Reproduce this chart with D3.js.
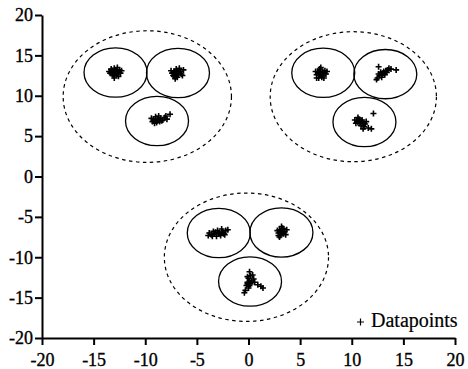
<!DOCTYPE html>
<html>
<head>
<meta charset="utf-8">
<script src="https://cdn.jsdelivr.net/npm/d3@7"></script>
<style>
  html, body { margin: 0; padding: 0; background: #fff; }
  svg { display: block; }
</style>
</head>
<body>
<svg id="chart" width="468" height="369"></svg>
<script>
// Axis ticks
const xTicks = [-20, -15, -10, -5, 0, 5, 10, 15, 20];
const yTicks = [-20, -15, -10, -5, 0, 5, 10, 15, 20];

// Datapoints, one list per cluster
const clusterTL1 = [[-12.9,13.0],[-13.2,13.1],[-12.6,12.9],[-13.0,13.4],[-12.8,12.6],[-13.4,12.8],[-12.5,13.2],[-13.1,12.5],[-12.7,13.5],[-13.3,13.3],[-12.4,12.8],[-13.0,12.2],[-12.6,12.4],[-13.5,13.0],[-12.9,12.8],[-12.3,13.1],[-13.2,12.7],[-12.8,13.2],[-13.0,13.0],[-12.7,12.7],[-13.1,12.9],[-12.8,13.0]];
const clusterTL2 = [[-7.0,12.8],[-7.2,13.0],[-6.8,12.6],[-7.3,12.5],[-6.6,13.0],[-7.0,13.3],[-6.9,12.3],[-7.4,12.8],[-6.5,12.7],[-6.7,13.4],[-7.1,12.1],[-6.3,13.2],[-7.5,13.1],[-6.9,12.9],[-6.4,12.5],[-7.2,12.4],[-7.0,12.6],[-6.8,13.0],[-7.1,12.8]];
const clusterTL3 = [[-8.8,7.1],[-9.2,7.0],[-8.5,7.2],[-9.0,7.4],[-8.6,6.8],[-9.3,6.8],[-8.3,7.0],[-8.9,6.7],[-9.4,7.2],[-8.1,7.3],[-8.7,7.5],[-9.1,6.6],[-8.4,6.9],[-7.9,7.1],[-7.6,7.7],[-8.0,7.5],[-8.8,6.9],[-9.0,7.1],[-8.6,7.0]];
const clusterTR1 = [[7.0,12.9],[6.7,13.0],[7.3,12.8],[6.9,13.3],[7.2,12.5],[6.6,12.6],[7.4,13.1],[6.8,12.2],[7.1,12.3],[6.5,13.0],[7.5,12.7],[7.0,13.5],[6.6,12.2],[7.3,12.2],[6.9,12.6],[7.6,13.0],[7.0,12.7],[6.8,12.9],[7.2,13.0]];
const clusterTR2 = [[13.0,12.8],[12.7,12.5],[13.3,13.1],[12.5,12.2],[13.5,13.2],[12.8,12.9],[13.2,12.6],[12.9,12.3],[13.6,13.4],[12.6,12.7],[13.1,13.0],[12.4,12.0],[13.4,12.9],[14.3,13.2],[12.6,13.6],[13.8,13.3],[12.9,12.6],[13.1,12.8]];
const clusterTR3 = [[10.8,6.8],[10.5,6.9],[11.1,6.6],[10.7,7.1],[11.0,7.0],[10.4,6.6],[11.3,6.5],[10.9,6.3],[10.6,7.3],[11.4,6.8],[10.3,7.0],[11.2,6.2],[11.1,5.9],[11.6,6.0],[11.9,5.9],[12.1,7.8],[10.8,6.6],[11.0,6.8],[10.6,6.7]];
const clusterB1 = [[-2.9,-7.0],[-3.3,-7.1],[-2.5,-6.9],[-3.6,-7.2],[-2.2,-6.7],[-3.0,-6.7],[-2.7,-7.3],[-3.4,-6.8],[-2.4,-7.1],[-3.8,-7.0],[-2.0,-6.6],[-3.1,-7.4],[-2.6,-6.5],[-3.5,-7.4],[-2.3,-7.2],[-3.9,-7.3],[-3.2,-6.9],[-2.8,-7.1],[-2.6,-6.9]];
const clusterB2 = [[3.2,-6.9],[3.0,-6.6],[3.4,-7.1],[3.1,-7.3],[3.3,-6.4],[2.9,-7.0],[3.5,-6.8],[3.2,-6.2],[3.0,-7.5],[3.6,-7.2],[2.8,-6.7],[3.4,-6.5],[3.1,-6.9],[3.7,-6.6],[2.9,-7.3],[3.2,-6.7],[3.3,-7.0]];
const clusterB3 = [[0.1,-11.8],[0.2,-12.3],[0.0,-12.6],[0.3,-12.9],[-0.1,-13.1],[0.2,-13.3],[-0.2,-13.5],[0.0,-13.8],[-0.3,-14.1],[-0.4,-14.4],[0.5,-12.7],[0.6,-13.1],[0.9,-13.4],[1.2,-13.6],[1.4,-13.8],[0.1,-13.0],[-0.1,-12.4],[0.4,-12.2],[0.1,-13.5],[-0.1,-13.3]];

// Cluster boundaries: [centerX, centerY, radius] in data units
const innerCircles = [[-12.88,12.88,3.05],[-6.83,12.82,3.05],[-8.86,6.87,3.05],
                      [7.24,12.84,3.05],[13.25,12.68,3.05],[11.23,6.75,3.05],
                      [-2.88,-7.0,3.05],[3.19,-6.93,3.05],[0.15,-13.0,3.05]];
const outerCircles = [[-9.8,9.9,8.15],[10.15,9.88,8.05],[-0.2,-10.0,7.95]];

const legendLabel = "Datapoints";

const serif = "Liberation Serif";

const svg = d3.select("#chart");
const x = d3.scaleLinear().domain([-20, 20]).range([42, 455]);
const y = d3.scaleLinear().domain([-20, 20]).range([338, 15]);

// Dashed outer group boundaries
svg.append("g").selectAll("ellipse").data(outerCircles).join("ellipse")
  .attr("cx", d => x(d[0])).attr("cy", d => y(d[1]))
  .attr("rx", d => x(d[2]) - x(0)).attr("ry", d => y(0) - y(d[2]))
  .attr("fill", "none").attr("stroke", "#000").attr("stroke-width", 1.2)
  .attr("stroke-dasharray", "3.5,3.5");

// Solid cluster boundaries
svg.append("g").selectAll("ellipse").data(innerCircles).join("ellipse")
  .attr("cx", d => x(d[0])).attr("cy", d => y(d[1]))
  .attr("rx", d => x(d[2]) - x(0)).attr("ry", d => y(0) - y(d[2]))
  .attr("fill", "none").attr("stroke", "#000").attr("stroke-width", 1.3);

// "+" markers
const allPoints = [].concat(clusterTL1, clusterTL2, clusterTL3, clusterTR1, clusterTR2,
                            clusterTR3, clusterB1, clusterB2, clusterB3);
const h = 3;
svg.append("g").selectAll("path").data(allPoints).join("path")
  .attr("d", d => `M${x(d[0]) - h},${y(d[1])}h${2*h}M${x(d[0])},${y(d[1]) - h}v${2*h}`)
  .attr("stroke", "#000").attr("stroke-width", 1.6).attr("fill", "none");

// Axes
const fmt = d => String(d);
const xAxis = svg.append("g").attr("transform", `translate(0,${y(-20)})`)
  .call(d3.axisBottom(x).tickValues(xTicks).tickFormat(fmt).tickSize(7).tickSizeOuter(0).tickPadding(8));
const yAxis = svg.append("g").attr("transform", `translate(${x(-20)},0)`)
  .call(d3.axisLeft(y).tickValues(yTicks).tickFormat(fmt).tickSize(7).tickSizeOuter(0).tickPadding(2));
[xAxis, yAxis].forEach(a => {
  a.attr("font-family", serif).attr("font-size", 18);
  a.selectAll("path.domain").attr("stroke", "#000").attr("stroke-width", 2);
  a.selectAll(".tick line").attr("stroke", "#000").attr("stroke-width", 2);
  a.selectAll(".tick text").attr("fill", "#000").attr("stroke", "#000").attr("stroke-width", 0.35)
    .attr("font-family", serif).attr("font-size", 18);
});

// Legend
const lg = svg.append("g");
lg.append("path")
  .attr("d", `M${357},${322}h${7}M${360.5},${318.5}v${7}`)
  .attr("stroke", "#000").attr("stroke-width", 1.2);
lg.append("text").attr("x", 371).attr("y", 327)
  .attr("font-family", serif).attr("font-size", 20).attr("fill", "#000")
  .attr("stroke", "#000").attr("stroke-width", 0.2)
  .text(legendLabel);
</script>
</body>
</html>
